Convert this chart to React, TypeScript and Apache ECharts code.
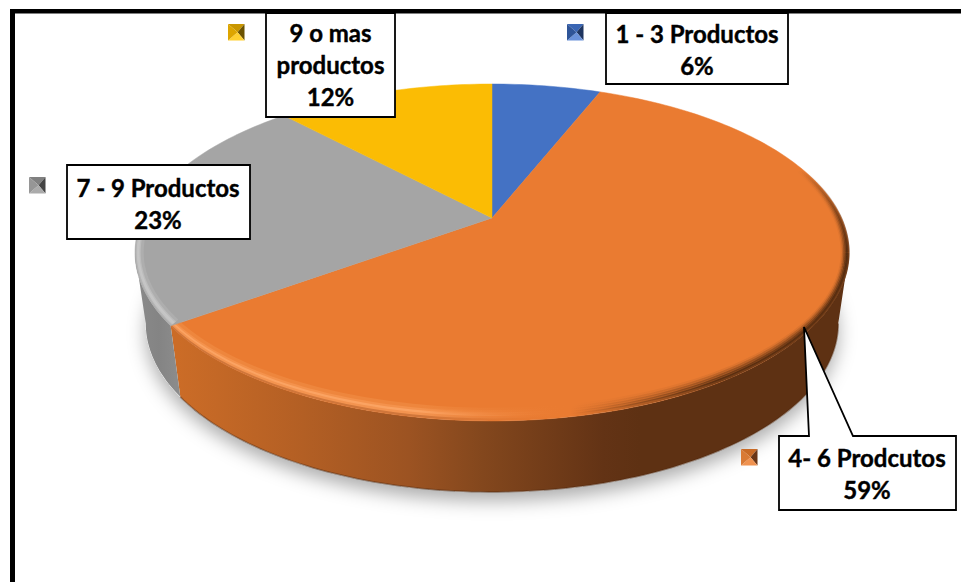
import React, { useEffect, useRef } from "react";
import * as echarts from "echarts";

// Share of customers by number of products held
const categories = ["1 - 3 Productos", "4- 6 Prodcutos", "7 - 9 Productos", "9 o mas\nproductos"];
const values = [6, 59, 23, 12];

const faceColors = ["#4472C4", "#EA7B31", "#A5A5A5", "#FBBC04"];

// Key swatch shading: top, right, bottom, left facets
const keyFacets = [
  ["#3A66B4", "#1E3560", "#6A92DA", "#2F5598"],
  ["#C96A25", "#6A3515", "#F0924F", "#D97A35"],
  ["#808080", "#444444", "#ABABAB", "#969696"],
  ["#C89600", "#6B5200", "#FFD030", "#DDA500"],
];

const keyBoxes = [
  [567, 24],
  [741, 449],
  [29, 177],
  [228, 24],
];

const labelCentres = [
  [697, 49],
  [867, 473],
  [158, 203],
  [330.5, 64.5],
];

const labelBoxes = [
  [606, 13, 182, 71],
  null,
  [67, 165, 183, 74],
  [266, 13, 129, 104],
];

const calloutOutline = [
  [779, 436], [809, 436], [804, 327], [853, 436], [956, 436], [956, 510], [779, 510],
];

// Perspective disc: apex is where the slices meet, the rim is a tilted ellipse
const APEX_X = 492;
const APEX_Y = 218;
const TILT = 0.2047;
const SCALE_X = 349.4;
const SCALE_Y = 161.4;
const RIM_CY = 252.5;
const RIM_RX = 357;
const RIM_RY = 168.5;
const FLOOR_CY = 323.5;
const FLOOR_SHRINK = 0.97;

// The wall is only seen between the two points where the rim turns back
const WALL_FROM = Math.acos(-TILT);
const WALL_TO = Math.PI * 2 - WALL_FROM;

const DEG = Math.PI / 180;

const onRim = (theta: number): [number, number] => {
  const u = Math.sin(theta);
  const v = Math.cos(theta);
  const d = 1 + TILT * v;
  return [APEX_X + (SCALE_X * u) / d, APEX_Y - (SCALE_Y * v) / d];
};

const onFloor = (theta: number): [number, number] => {
  const [x, y] = onRim(theta);
  return [APEX_X + (x - APEX_X) * FLOOR_SHRINK, FLOOR_CY + (y - RIM_CY)];
};

// Pulls a rim point inwards to trace the bevel; t runs 0 (edge) to 1 (inner edge)
const inset = (p: [number, number], t: number): [number, number] => {
  const nx = (p[0] - APEX_X) / RIM_RX;
  const ny = (p[1] - RIM_CY) / RIM_RY;
  return [p[0] - t * 7.5 * nx, p[1] - t * (ny > 0 ? 13 * ny : 2.5 * ny)];
};

const total = values.reduce((a, b) => a + b, 0);

const sliceAngles = (index: number): [number, number] => {
  let before = 0;
  for (let i = 0; i < index; i++) before += values[i];
  const start = (before / total) * Math.PI * 2;
  return [start, start + (values[index] / total) * Math.PI * 2];
};

const sampleAngles = (start: number, end: number): number[] => {
  const steps = Math.max(4, Math.ceil((end - start) / 0.02));
  const out: number[] = [];
  for (let i = 0; i <= steps; i++) out.push(start + ((end - start) * i) / steps);
  return out;
};

const { LinearGradient } = echarts.graphic;

const gradient = (x0: number, y0: number, x1: number, y1: number, stops: [number, string][]) =>
  new LinearGradient(x0, y0, x1, y1, stops.map(([o, c]) => ({ offset: o, color: c })), true);

const wallFills: any[] = [
  "#2F4F88",
  gradient(178, 0, 640, 0, [
    [0, "#CB6C27"],
    [0.27, "#B35F24"],
    [0.5, "#9C5322"],
    [0.66, "#83471D"],
    [0.92, "#633315"],
    [1, "#5E3113"],
  ]),
  gradient(135, 0, 183, 0, [
    [0, "#8A8A8A"],
    [0.5, "#848484"],
    [1, "#8E8E8E"],
  ]),
  "#AD8400",
];

// Bevel layers from the outer edge inwards: offset, lit colour, shade alpha
const orangeBevel: [number, string, number][] = [
  [0.15, "#D0763A", 0.72],
  [0.33, "#F39450", 0.55],
  [0.52, "#FBA362", 0.36],
  [0.7, "#F4924C", 0.2],
  [0.88, "#EE863D", 0.08],
];

const greyBevel: [number, string][] = [
  [0.25, "#B4B4B4"],
  [0.42, "#C4C4C4"],
  [0.6, "#C6C6C6"],
  [0.78, "#BCBCBC"],
  [0.95, "#AEAEAE"],
];

const polylineStyle = (stroke: any, lineWidth: number) => ({ fill: "none", stroke, lineWidth });

const wallItem = (params: any, api: any) => {
  const index = api.value(0);
  const [start, end] = sliceAngles(index);
  const from = Math.max(start, WALL_FROM);
  const to = Math.min(end, WALL_TO);
  if (from >= to) return { type: "group", children: [] };
  const angles = sampleAngles(from, to);
  const floor = angles.map(onFloor).reverse();
  const children: any[] = [
    { type: "polygon", shape: { points: [...angles.map(onRim), ...floor] }, style: { fill: wallFills[index] } },
  ];
  if (index === 1) {
    children.push({
      type: "polyline",
      shape: { points: floor },
      style: polylineStyle("rgba(80,40,14,0.5)", 1.5),
    });
  }
  return { type: "group", children };
};

const faceItem = (params: any, api: any) => {
  const index = api.value(0);
  const [start, end] = sliceAngles(index);
  const rim = sampleAngles(start, end).map(onRim);
  const children: any[] = [
    {
      type: "polygon",
      shape: { points: [[APEX_X, APEX_Y], ...rim] },
      style: { fill: faceColors[index], stroke: faceColors[index], lineWidth: 0.5 },
    },
  ];
  const arc = (a: number, b: number, t: number) => sampleAngles(a, b).map((x) => inset(onRim(x), t));
  if (index === 1) {
    const clear = "rgba(70,36,12,0)";
    orangeBevel.forEach(([t, lit, alpha]) => {
      const shade = `rgba(70,36,12,${alpha})`;
      // Lit band along the front left, dying out towards the middle
      children.push({
        type: "polyline",
        shape: { points: arc(145 * DEG, end, t) },
        style: polylineStyle(
          gradient(178, 0, 570, 0, [
            [0, lit],
            [0.62, lit],
            [1, "rgba(234,123,49,0)"],
          ]),
          3.5,
        ),
      });
      // Shaded band along the front right
      children.push({
        type: "polyline",
        shape: { points: arc(WALL_FROM, 175 * DEG, t) },
        style: polylineStyle(gradient(570, 0, 720, 0, [[0, clear], [1, shade]]), 3.5),
      });
      // The same shade fading away round the back of the disc
      children.push({
        type: "polyline",
        shape: { points: arc(60 * DEG, WALL_FROM, t) },
        style: polylineStyle(gradient(0, 170, 0, 255, [[0, clear], [1, shade]]), 3.5),
      });
    });
  }
  if (index === 2) {
    greyBevel.forEach(([t, lit]) => {
      children.push({
        type: "polyline",
        shape: { points: arc(start, Math.min(end, 305 * DEG), t) },
        style: polylineStyle(
          gradient(0, 330, 0, 150, [
            [0, lit],
            [0.55, lit],
            [1, "rgba(165,165,165,0)"],
          ]),
          3,
        ),
      });
    });
  }
  return { type: "group", children };
};

const shadowItem = () => ({
  type: "polygon",
  shape: { points: sampleAngles(0, Math.PI * 2).map(onFloor) },
  style: {
    fill: "#FFFFFF",
    shadowBlur: 18,
    shadowColor: "rgba(0,0,0,0.32)",
    shadowOffsetY: 9,
  },
});

const OVERLAY_Z = 20;

const labelText = (i: number) => `${categories[i]}\n${values[i]}%`;

const overlay = (): any[] => {
  const items: any[] = [];
  labelBoxes.forEach((box) => {
    if (!box) return;
    items.push({
      type: "rect",
      z: OVERLAY_Z,
      shape: { x: box[0], y: box[1], width: box[2], height: box[3] },
      style: { fill: "#FFFFFF", stroke: "#000000", lineWidth: 1.8 },
    });
  });
  items.push({
    type: "polygon",
    z: OVERLAY_Z,
    shape: { points: calloutOutline },
    style: { fill: "#FFFFFF", stroke: "#000000", lineWidth: 1.8 },
  });
  categories.forEach((_, i) => {
    items.push({
      type: "text",
      z: OVERLAY_Z + 1,
      style: {
        text: labelText(i),
        x: labelCentres[i][0],
        y: labelCentres[i][1],
        align: "center",
        verticalAlign: "middle",
        lineHeight: 32,
        fontFamily: "Lato",
        fontWeight: 700,
        fontSize: 24,
        fill: "#000000",
        stroke: "#000000",
        lineWidth: 0.4,
      },
    });
    const [kx, ky] = keyBoxes[i];
    const s = 16.5;
    const c: [number, number] = [kx + s * 0.58, ky + s / 2];
    const corners: [number, number][] = [[kx, ky], [kx + s, ky], [kx + s, ky + s], [kx, ky + s]];
    keyFacets[i].forEach((fill, f) => {
      items.push({
        type: "polygon",
        z: OVERLAY_Z,
        shape: { points: [corners[f], corners[(f + 1) % 4], c] },
        style: { fill },
      });
    });
  });
  // Heavy frame around the plot; it runs on past the right and bottom edges
  items.push({
    type: "rect",
    z: OVERLAY_Z + 2,
    shape: { x: 10, y: 9, width: 951, height: 4.5 },
    style: { fill: "#000000" },
  });
  items.push({
    type: "rect",
    z: OVERLAY_Z + 2,
    shape: { x: 10, y: 9, width: 5, height: 573 },
    style: { fill: "#000000" },
  });
  return items;
};

export default function App() {
  const ref = useRef<HTMLDivElement>(null);

  useEffect(() => {
    if (!ref.current) return;
    const chart = echarts.init(ref.current, undefined, { renderer: "svg" });
    const rows = values.map((v, i) => [i, v]);
    chart.setOption({
      animation: false,
      backgroundColor: "#FFFFFF",
      series: [
        { type: "custom", coordinateSystem: "none", z: 1, silent: true, data: [[0, 0]], renderItem: shadowItem },
        { type: "custom", coordinateSystem: "none", z: 2, silent: true, data: rows, renderItem: wallItem },
        { type: "custom", coordinateSystem: "none", z: 3, silent: true, data: rows, renderItem: faceItem },
      ],
      graphic: { elements: overlay() },
    });
    return () => chart.dispose();
  }, []);

  return <div ref={ref} style={{ position: "fixed", left: 0, top: 0, width: 961, height: 582 }} />;
}
